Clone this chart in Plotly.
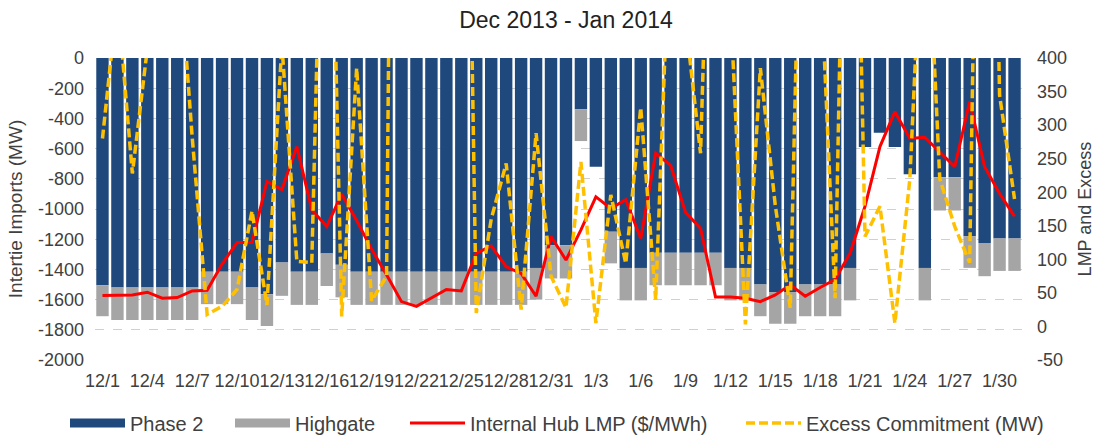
import plotly.graph_objects as go

# ---------------- data ----------------
dates = ["12/1", "12/2", "12/3", "12/4", "12/5", "12/6", "12/7", "12/8", "12/9", "12/10",
         "12/11", "12/12", "12/13", "12/14", "12/15", "12/16", "12/17", "12/18", "12/19", "12/20",
         "12/21", "12/22", "12/23", "12/24", "12/25", "12/26", "12/27", "12/28", "12/29", "12/30",
         "12/31", "1/1", "1/2", "1/3", "1/4", "1/5", "1/6", "1/7", "1/8", "1/9",
         "1/10", "1/11", "1/12", "1/13", "1/14", "1/15", "1/16", "1/17", "1/18", "1/19",
         "1/20", "1/21", "1/22", "1/23", "1/24", "1/25", "1/26", "1/27", "1/28", "1/29",
         "1/30", "1/31"]

phase2 = [-1505, -1520, -1520, -1520, -1520, -1520, -1520, -1415, -1415, -1415,
          -1520, -1565, -1355, -1415, -1415, -1295, -1370, -1415, -1415, -1415,
          -1415, -1415, -1415, -1415, -1415, -1415, -1415, -1415, -1415, -1390,
          -1240, -1240, -340, -720, -1150, -1390, -1390, -1290, -1290, -1290,
          -1290, -1290, -1390, -1390, -1500, -1550, -1550, -1500, -1500, -1500,
          -1390, -590, -495, -590, -770, -1390, -790, -790, -1180, -1225,
          -1195, -1195]

highgate = [-205, -215, -215, -215, -215, -215, -215, -215, -215, -215,
            -215, -210, -220, -220, -220, -215, -215, -220, -220, -220,
            -220, -220, -220, -220, -220, -220, -220, -220, -220, -210,
            -220, -220, -210, 0, -210, -215, -215, -215, -215, -215,
            -215, -215, -215, -215, -210, -210, -210, -210, -210, -210,
            -215, 0, 0, 0, 0, -215, -220, -220, -210, -220,
            -215, -215]

lmp = [46, 47, 47, 51, 42, 43, 53, 54, 93, 125,
       125, 216, 204, 268, 174, 149, 197, 158, 115, 77,
       37, 30, 42, 55, 53, 109, 120, 89, 79, 45,
       134, 99, 144, 193, 176, 189, 131, 258, 240, 170,
       146, 44, 44, 42, 37, 47, 62, 45, 58, 70,
       109, 179, 268, 320, 280, 282, 260, 238, 335, 238,
       198, 164]

excess = [280, 490, 228, 415, 600, 585, 282, 18, 30, 55,
          172, 32, 420, 97, 95, 1000, 15, 385, 38, 75,
          2500, 2400, 2000, 1700, 1400, 20, 160, 243, 25, 288,
          75, 28, 245, 5, 196, 94, 326, 40, 630, 455,
          258, 1000, 479, 3, 385, 180, 28, 989, 540, 42,
          1200, 134, 179, 5, 220, 700, 220, 149, 95, 1500,
          345, 190]

tick_dates = ["12/1", "12/4", "12/7", "12/10", "12/13", "12/16", "12/19", "12/22", "12/25",
              "12/28", "12/31", "1/3", "1/6", "1/9", "1/12", "1/15", "1/18", "1/21", "1/24",
              "1/27", "1/30"]

left_ticks = [0, -200, -400, -600, -800, -1000, -1200, -1400, -1600, -1800, -2000]
left_tick_text = ["0", "-200", "-400", "-600", "-800", "-1000", "-1200", "-1400", "-1600", "-1800", "-2000"]
right_ticks = [400, 350, 300, 250, 200, 150, 100, 50, 0, -50]
right_tick_text = ["400", "350", "300", "250", "200", "150", "100", "50", "0", "-50"]

# ---------------- style ----------------
BLUE = "#1F497D"
GRAY = "#A5A5A5"
RED = "#FF0000"
GOLD = "#FFC000"
FONT = "Liberation Sans, Arial, sans-serif"
TXT = "#404040"

W, H = 1103, 437
ML, MR, MT, MB = 95, 81, 58, 77
PW = W - ML - MR
PH = H - MT - MB

fig = go.Figure()
fig.add_trace(go.Bar(x=dates, y=phase2, name="Phase 2", marker_color=BLUE,
                     marker_line_width=0, showlegend=False))
fig.add_trace(go.Bar(x=dates, y=highgate, name="Highgate", marker_color=GRAY,
                     marker_line_width=0, showlegend=False))
fig.add_trace(go.Scatter(x=dates, y=lmp, yaxis="y2", mode="lines", name="Internal Hub LMP ($/MWh)",
                         line=dict(color=RED, width=3), legend="legend3"))
fig.add_trace(go.Scatter(x=dates, y=excess, yaxis="y2", mode="lines", name="Excess Commitment (MW)",
                         line=dict(color=GOLD, width=3.5, dash="9px,4px"), legend="legend4"))
# legend swatches for the bar series
fig.add_trace(go.Scatter(x=[None], y=[None], mode="lines", name="Phase 2",
                         line=dict(color=BLUE, width=9), legend="legend"))
fig.add_trace(go.Scatter(x=[None], y=[None], mode="lines", name="Highgate",
                         line=dict(color=GRAY, width=9), legend="legend2"))


def px_x(px):
    return (px - ML) / PW


legend_y = (H - MB - 423) / PH
leg_common = dict(orientation="h", yanchor="middle", y=legend_y, xanchor="left",
                  font=dict(family=FONT, size=20, color=TXT), bgcolor="rgba(0,0,0,0)",
                  itemwidth=55, borderwidth=0)

fig.update_layout(
    width=W, height=H,
    margin=dict(l=ML, r=MR, t=MT, b=MB, autoexpand=False),
    paper_bgcolor="white", plot_bgcolor="white",
    barmode="relative", bargap=0.17,
    font=dict(family=FONT, size=18, color=TXT),
    title=dict(text="Dec 2013 - Jan 2014", x=566 / W, xanchor="center", xref="container",
               y=1 - 20 / H, yanchor="middle", yref="container",
               font=dict(family=FONT, size=23, color="#222222")),
    xaxis=dict(type="category", tickmode="array", tickvals=tick_dates, ticktext=tick_dates,
               showgrid=False, showline=False, ticks="", tickangle=0, ticklabelstandoff=8,
               tickfont=dict(size=18, color=TXT), range=[-0.5, 61.5]),
    yaxis=dict(range=[-2000, 0], tickmode="array", tickvals=left_ticks, ticktext=left_tick_text,
               showgrid=True, gridcolor="#D0D0D0", gridwidth=1, griddash="dash",
               zeroline=False, showline=False, ticks="", ticklabelstandoff=10,
               tickfont=dict(size=18, color=TXT),
               title=dict(text="Intertie Imports (MW)", standoff=10,
                          font=dict(size=19, color=TXT))),
    yaxis2=dict(range=[-50, 400], overlaying="y", side="right", tickmode="array",
                tickvals=right_ticks, ticktext=right_tick_text, showgrid=False,
                zeroline=False, showline=False, ticks="", ticklabelstandoff=14,
                tickfont=dict(size=18, color=TXT),
                title=dict(text="LMP and Excess", standoff=12,
                           font=dict(size=18, color=TXT))),
    legend=dict(x=px_x(65), **leg_common),
    legend2=dict(x=px_x(230), **leg_common),
    legend3=dict(x=px_x(405), **leg_common),
    legend4=dict(x=px_x(741), **leg_common),
)

fig.write_html("out.html", config={"displayModeBar": False},
               post_script="document.body.style.margin='0';")
